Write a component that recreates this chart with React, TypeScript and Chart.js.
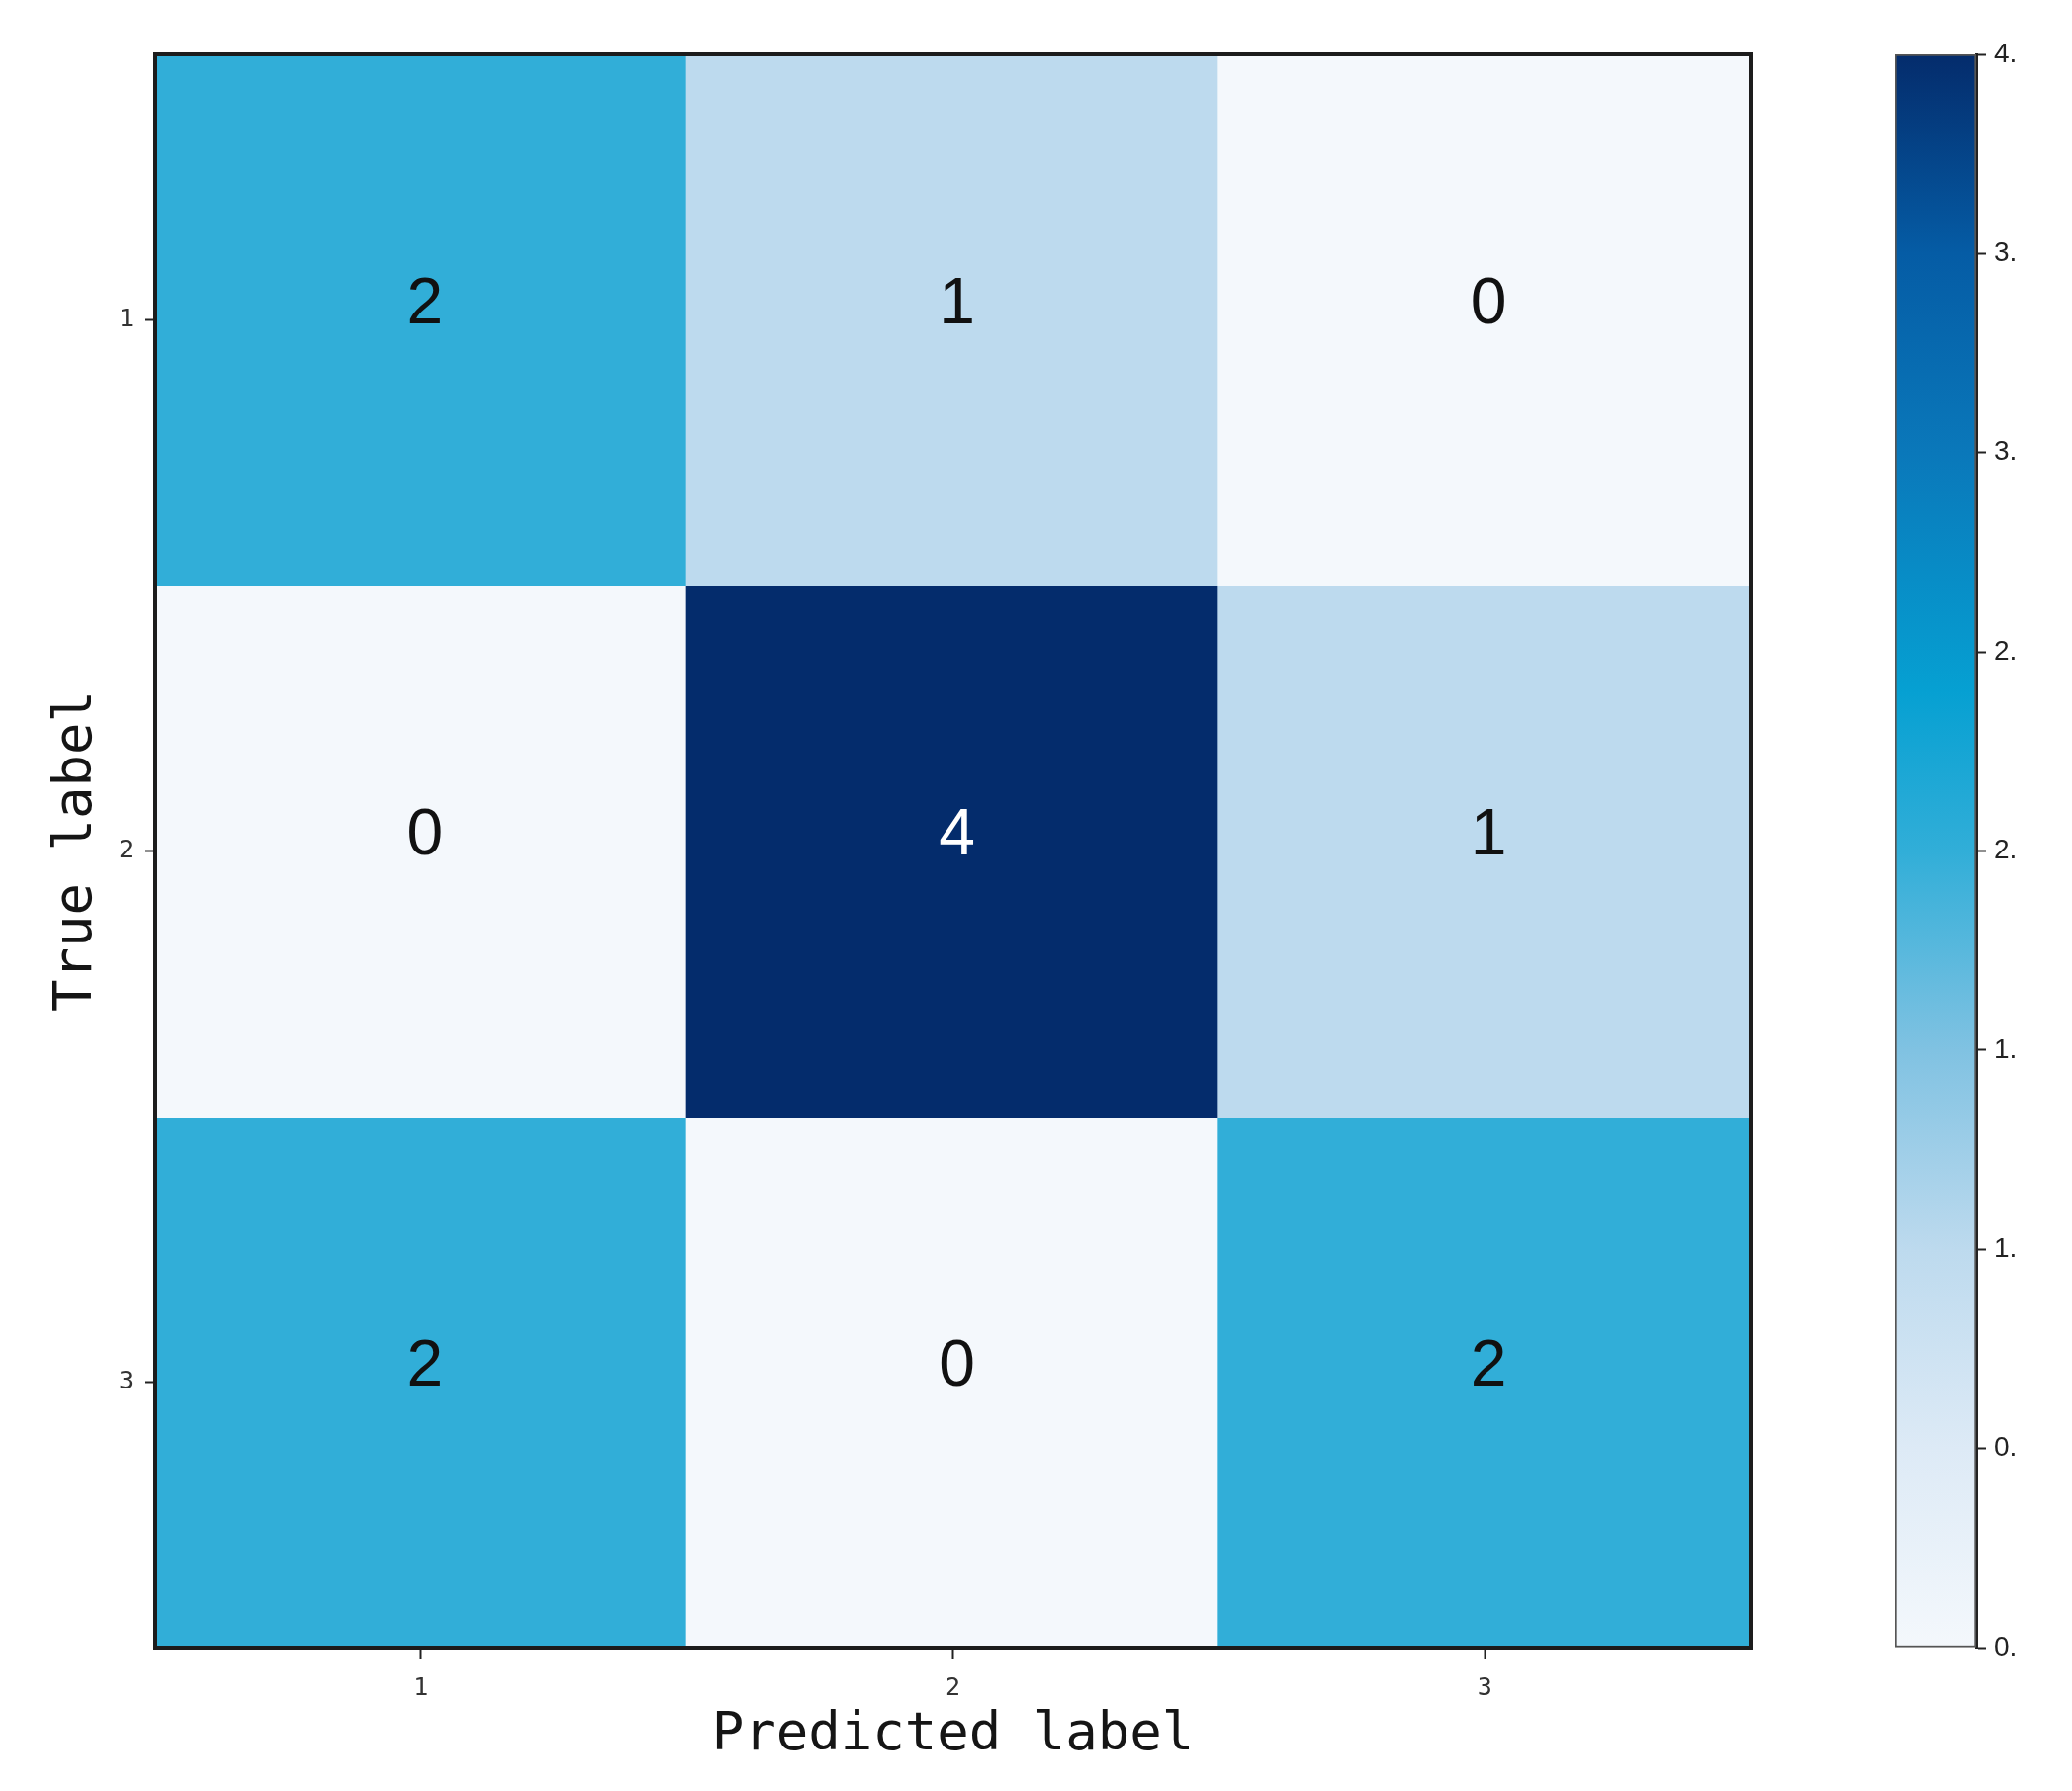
import React, { useEffect, useRef } from "react";
import { Chart, registerables } from "chart.js";

Chart.register(...registerables);

// ---- data ----
const predictedLabels = ["1", "2", "3"];
const trueLabels = ["1", "2", "3"];
const trueTickValues = [1, 2, 3];
const row1 = [2, 1, 0];
const row2 = [0, 4, 1];
const row3 = [2, 0, 2];
const matrixRows = [row1, row2, row3];
const colorbarMin = 0;
const colorbarMax = 4;
const cbTickValues = [0, 0.5, 1, 1.5, 2, 2.5, 3, 3.5, 4];
const cbTickLabels = ["0.", "0.", "1.", "1.", "2.", "2.", "3.", "3.", "4."];

// ---- colour map (fraction -> colour) ----
const cmapStops: [number, number[]][] = [
  [0.0, [244, 248, 252]],
  [0.125, [221, 234, 246]],
  [0.25, [189, 218, 238]],
  [0.375, [128, 194, 226]],
  [0.5, [49, 174, 216]],
  [0.6, [6, 160, 210]],
  [0.75, [10, 120, 186]],
  [0.875, [5, 92, 165]],
  [1.0, [4, 44, 108]],
];

function rgbAt(t: number): number[] {
  const tt = Math.max(0, Math.min(1, t));
  for (let i = 1; i < cmapStops.length; i++) {
    const [t1, c1] = cmapStops[i];
    const [t0, c0] = cmapStops[i - 1];
    if (tt <= t1) {
      const f = (tt - t0) / (t1 - t0);
      return c0.map((v, k) => Math.round(v + (c1[k] - v) * f));
    }
  }
  return cmapStops[cmapStops.length - 1][1];
}
function colorFor(v: number): string {
  const c = rgbAt((v - colorbarMin) / (colorbarMax - colorbarMin));
  return `rgb(${c[0]},${c[1]},${c[2]})`;
}

const monoFont = "'DejaVu Sans Mono', monospace";
const sansFont = "'Liberation Sans', Arial, sans-serif";

const framePlugin = {
  id: "frame",
  afterDraw(chart: any) {
    const { ctx, chartArea } = chart;
    ctx.save();
    ctx.strokeStyle = "#1c1c1c";
    ctx.lineWidth = 4;
    ctx.strokeRect(chartArea.left, chartArea.top, chartArea.right - chartArea.left, chartArea.bottom - chartArea.top);
    ctx.restore();
  },
};

const cellTextPlugin = {
  id: "cellText",
  afterDatasetsDraw(chart: any) {
    const { ctx } = chart;
    const xs = chart.scales.x;
    const ys = chart.scales.y;
    const size = 66;
    ctx.save();
    ctx.font = `${size}px ${sansFont}`;
    ctx.textAlign = "center";
    ctx.textBaseline = "middle";
    matrixRows.forEach((row, r) => {
      row.forEach((v, c) => {
        const x = xs.getPixelForValue(c);
        const y = ys.getPixelForValue(trueTickValues[r]);
        ctx.fillStyle = v > (colorbarMax - colorbarMin) / 2 ? "#ffffff" : "#111111";
        ctx.fillText(String(v), x + 4, y - size * 0.23);
      });
    });
    ctx.restore();
  },
};

export default function App() {
  const mainRef = useRef<HTMLCanvasElement | null>(null);
  const cbRef = useRef<HTMLCanvasElement | null>(null);

  useEffect(() => {
    if (!mainRef.current || !cbRef.current) return;

    const datasets = matrixRows.map((row, r) => ({
      label: `True ${trueLabels[r]}`,
      data: row.map(() => [trueTickValues[r] - 0.5, trueTickValues[r] + 0.5]),
      backgroundColor: row.map((v) => colorFor(v)),
      borderWidth: 0,
      barPercentage: 1,
      categoryPercentage: 1,
      grouped: false,
      inflateAmount: 1,
    }));

    const main = new Chart(mainRef.current, {
      type: "bar",
      data: { labels: predictedLabels, datasets: datasets as any },
      options: {
        responsive: false,
        animation: false,
        layout: { padding: { top: 55, right: 110, bottom: 0, left: 0 } },
        plugins: { legend: { display: false }, tooltip: { enabled: false } },
        scales: {
          x: {
            type: "category",
            offset: true,
            grid: {
              display: true,
              drawOnChartArea: false,
              drawTicks: true,
              tickLength: 12,
              tickWidth: 2,
              tickColor: "#222",
              offset: false,
            },
            border: { display: false },
            ticks: { font: { family: monoFont, size: 25 }, color: "#333", padding: 14, maxRotation: 0 },
            title: {
              display: true,
              text: "Predicted label",
              font: { family: monoFont, size: 54 },
              color: "#151515",
              padding: { top: 0, bottom: 24 },
            },
            afterFit: (s: any) => {
              s.height = 145;
            },
          },
          y: {
            type: "linear",
            min: 0.5,
            max: 3.5,
            reverse: true,
            afterBuildTicks: (s: any) => {
              s.ticks = trueTickValues.map((v) => ({ value: v }));
            },
            grid: {
              display: true,
              drawOnChartArea: false,
              drawTicks: true,
              tickLength: 10,
              tickWidth: 2,
              tickColor: "#222",
            },
            border: { display: false },
            ticks: {
              font: { family: monoFont, size: 25 },
              color: "#333",
              padding: 12,
              callback: (v: any) => {
                const i = trueTickValues.indexOf(Number(v));
                return i >= 0 ? trueLabels[i] : "";
              },
            },
            title: {
              display: true,
              text: "True label",
              font: { family: monoFont, size: 54 },
              color: "#151515",
              padding: { top: 46, bottom: 0 },
            },
            afterFit: (s: any) => {
              s.width = 157;
            },
          },
        },
      },
      plugins: [cellTextPlugin, framePlugin],
    });

    const cb = new Chart(cbRef.current, {
      type: "bar",
      data: {
        labels: ["colorbar"],
        datasets: [
          {
            data: [[colorbarMin, colorbarMax]] as any,
            backgroundColor: (ctx: any) => {
              const area = ctx.chart.chartArea;
              if (!area) return colorFor((colorbarMin + colorbarMax) / 2);
              const g = ctx.chart.ctx.createLinearGradient(0, area.bottom, 0, area.top);
              cmapStops.forEach(([t, c]) => g.addColorStop(t, `rgb(${c[0]},${c[1]},${c[2]})`));
              return g;
            },
            borderColor: "#555",
            borderWidth: 2,
            borderSkipped: false,
            barPercentage: 1,
            categoryPercentage: 1,
          } as any,
        ],
      },
      options: {
        responsive: false,
        animation: false,
        layout: { padding: { left: 36, top: 55, bottom: 145, right: 0 } },
        plugins: { legend: { display: false }, tooltip: { enabled: false } },
        scales: {
          x: { display: false },
          y: {
            position: "right",
            min: colorbarMin,
            max: colorbarMax,
            afterBuildTicks: (s: any) => {
              s.ticks = cbTickValues.map((v) => ({ value: v }));
            },
            grid: {
              display: true,
              drawOnChartArea: false,
              drawTicks: true,
              tickLength: 10,
              tickWidth: 2,
              tickColor: "#222",
            },
            border: { display: true, color: "#222", width: 3 },
            ticks: {
              font: { family: sansFont, size: 28 },
              color: "#222",
              padding: 8,
              callback: (v: any) => {
                const i = cbTickValues.indexOf(Number(v));
                return i >= 0 ? cbTickLabels[i] : "";
              },
            },
            afterFit: (s: any) => {
              s.width = 97;
            },
          },
        },
      },
    });

    return () => {
      main.destroy();
      cb.destroy();
    };
  }, []);

  return (
    <div style={{ position: "absolute", left: 0, top: 0, width: 2095, height: 1811, background: "#fff" }}>
      <canvas
        ref={mainRef}
        width={1880}
        height={1811}
        style={{ position: "absolute", left: 0, top: 0, width: 1880, height: 1811 }}
      />
      <canvas
        ref={cbRef}
        width={215}
        height={1811}
        style={{ position: "absolute", left: 1880, top: 0, width: 215, height: 1811 }}
      />
    </div>
  );
}
